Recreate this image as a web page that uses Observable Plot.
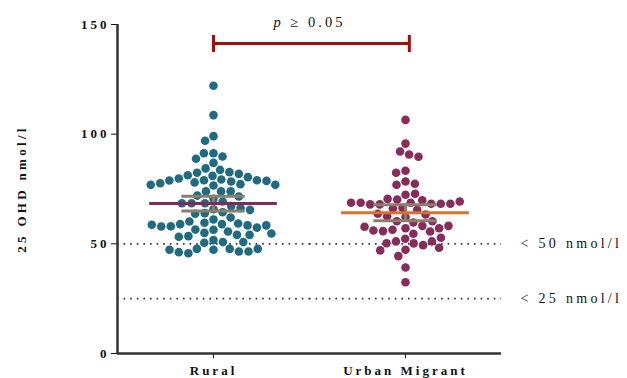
<!DOCTYPE html>
<html>
<head>
<meta charset="utf-8">
<script src="https://cdn.jsdelivr.net/npm/d3@7"></script>
<script src="https://cdn.jsdelivr.net/npm/@observablehq/plot@0.6"></script>
<style>
  html, body { margin: 0; padding: 0; background: #fff; }
  #chart svg { display: block; }
  #chart svg text { letter-spacing: 3px; }
  #chart svg .y-title text { letter-spacing: 3.3px; }
  #chart svg .ref-label text { letter-spacing: 3.3px; }
</style>
</head>
<body>
<div id="chart"></div>
<script>
// Serum 25(OH)D by residence group
const groups = ["Rural", "Urban Migrant"];

const rural = [
  122.1, 108.7, 99.1, 97.0,
  91.3, 91.3, 89.8, 88.8, 86.9,
  84.4, 83.7, 82.7, 82.4,
  81.9, 81.3, 81.0, 80.4, 79.8, 79.3, 79.0, 79.0, 78.9, 78.7, 78.4, 78.0,
  77.6, 77.2, 76.9, 76.9, 76.6,
  73.9, 73.9, 73.9, 72.0, 71.6, 70.5, 69.3,
  68.5, 68.5, 68.5, 67.2, 66.3, 65.8, 65.5, 64.4, 64.0, 63.7,
  62.0, 61.1, 60.2, 59.6, 59.0,
  59.3, 59.0, 58.4, 58.0, 57.4, 56.4, 55.0, 55.6, 56.5, 57.9, 58.4, 58.7,
  54.1, 53.5, 51.7, 50.8, 50.5, 50.8, 53.2, 54.1, 54.7,
  47.7, 47.7, 47.3, 46.5, 45.7, 46.2, 46.5, 47.3, 47.7
];

const urban = [
  106.5, 95.7, 92.1, 90.7, 89.7,
  83.3, 82.4, 78.4, 76.9, 77.4,
  72.4, 72.8, 70.2, 69.9, 70.5,
  68.7, 68.3, 68.0, 68.3, 68.0, 68.3, 68.7, 68.7, 69.3,
  66.4, 65.5, 66.1,
  63.4, 62.2, 62.6, 63.7,
  60.3, 59.7, 60.3,
  58.2, 57.1, 56.4, 55.8, 54.6, 55.6, 56.1, 57.1, 57.8, 58.2,
  52.3, 51.1, 50.2, 49.4, 50.3, 51.1, 52.8,
  47.3, 47.0, 48.2,
  44.4, 39.2, 32.5
];

const yTicks = [0, 50, 100, 150];
const thresholds = [50, 25];
const thresholdLabels = ["< 50 nmol/l", "< 25 nmol/l"];
const pLabel = "p ≥ 0.05";
const yLabel = "25 OHD nmol/l";

const dotColors = ["#216b80", "#862d5a"];
const meanColors = ["#7e2a5c", "#d3742f"];
const barColor = "#8c7d6d";
const bracketColor = "#a50d0d";
const axisColor = "#333";

// long-format table
const points = [
  ...rural.map(v => ({group: groups[0], v})),
  ...urban.map(v => ({group: groups[1], v}))
];

// mean and 95% confidence interval per group
const stats = [rural, urban].map((vals, i) => {
  const m = d3.mean(vals);
  const half = 1.96 * d3.deviation(vals) / Math.sqrt(vals.length);
  return {group: groups[i], mean: m, lo: m - half, hi: m + half};
});

const onlyGroup = g => () => g;

const chart = Plot.plot({
  width: 627,
  height: 378,
  marginLeft: 116,
  marginRight: 126,
  marginTop: 24,
  marginBottom: 25,
  style: {fontFamily: "'Liberation Serif', serif", fontSize: "13px", fontWeight: "bold", color: "#111", background: "#fff"},
  fx: {domain: groups, padding: 0, label: null, tickSize: 5, tickPadding: 7},
  x: {domain: [-1, 1], axis: null},
  y: {domain: [0, 150], ticks: yTicks, tickSize: 6, tickPadding: 2, label: null},
  color: {domain: groups, range: dotColors},
  marks: [
    // reference thresholds
    Plot.ruleY(thresholds, {y: d => d, stroke: axisColor, strokeWidth: 1.7, strokeDasharray: "1.6,5"}),
    Plot.text(thresholds, {
      fx: onlyGroup(groups[1]), x: 1, y: d => d, text: (d, i) => thresholdLabels[i],
      textAnchor: "start", dx: 19, fontWeight: "normal", fontSize: 14, className: "ref-label"
    }),
    // individual values
    Plot.dot(points, Plot.dodgeX("middle", {fx: "group", y: "v", r: 4.3, padding: 1.4, fill: "group"})),
    // confidence interval bars
    Plot.ruleX(stats, {fx: "group", x: 0, y1: "lo", y2: "hi", stroke: barColor, strokeWidth: 3}),
    Plot.ruleY(stats, {fx: "group", x1: -0.33, x2: 0.33, y: "lo", stroke: barColor, strokeWidth: 3}),
    Plot.ruleY(stats, {fx: "group", x1: -0.33, x2: 0.33, y: "hi", stroke: barColor, strokeWidth: 3}),
    // group means
    Plot.ruleY(stats.slice(0, 1), {fx: "group", x1: -0.665, x2: 0.665, y: "mean", stroke: meanColors[0], strokeWidth: 3}),
    Plot.ruleY(stats.slice(1), {fx: "group", x1: -0.665, x2: 0.665, y: "mean", stroke: meanColors[1], strokeWidth: 3}),
    // comparison bracket
    Plot.ruleY([141.3], {fx: onlyGroup(groups[0]), x1: 0, x2: 1, y: d => d, stroke: bracketColor, strokeWidth: 3}),
    Plot.ruleY([141.3], {fx: onlyGroup(groups[1]), x1: -1, x2: 0.04, y: d => d, stroke: bracketColor, strokeWidth: 3}),
    Plot.ruleX([0], {fx: onlyGroup(groups[0]), x: d => d, y1: 137.2, y2: 145, stroke: bracketColor, strokeWidth: 3}),
    Plot.ruleX([0.04], {fx: onlyGroup(groups[1]), x: d => d, y1: 137.2, y2: 145, stroke: bracketColor, strokeWidth: 3}),
    Plot.text([pLabel], {
      fx: onlyGroup(groups[0]), x: 1, y: 150, dy: -2, text: d => d,
      fontWeight: "normal", fontSize: 14.5, className: "p-label"
    }),
    // axis lines
    Plot.ruleY([0], {stroke: axisColor, strokeWidth: 2.5}),
    Plot.ruleX([-1], {fx: onlyGroup(groups[0]), x: d => d, y1: 0, y2: 150, stroke: axisColor, strokeWidth: 2.5}),
    // y-axis title
    Plot.text([yLabel], {
      fx: onlyGroup(groups[0]), frameAnchor: "left", dx: -96, rotate: -90, text: d => d,
      textAnchor: "middle", fontSize: 13, className: "y-title"
    })
  ]
});

document.getElementById("chart").appendChild(chart);

// italic p in the significance label
const pText = chart.querySelector(".p-label text");
if (pText) {
  const ns = "http://www.w3.org/2000/svg";
  pText.textContent = "";
  const t1 = document.createElementNS(ns, "tspan");
  t1.setAttribute("font-style", "italic");
  t1.textContent = "p";
  const t2 = document.createElementNS(ns, "tspan");
  t2.textContent = " ≥ 0.05";
  pText.append(t1, t2);
}
</script>
</body>
</html>
